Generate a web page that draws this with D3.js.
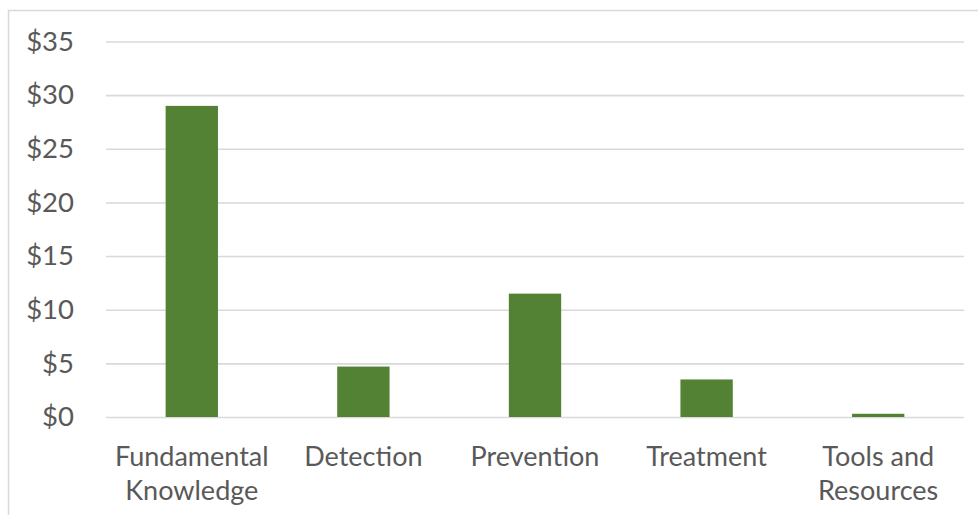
<!DOCTYPE html>
<html>
<head>
<meta charset="utf-8">
<script src="https://cdn.jsdelivr.net/npm/d3@7"></script>
<style>
  html, body { margin: 0; padding: 0; background: #fff; }
  svg { display: block; }
  text { font-family: Lato, "Open Sans", sans-serif; fill: #595959; }
</style>
</head>
<body>
<svg id="chart" width="978" height="515"></svg>
<script>
// Funding by research area (USD)
const categories = [["Fundamental", "Knowledge"], ["Detection"], ["Prevention"], ["Treatment"], ["Tools and", "Resources"]];
const amounts = [29.0, 4.7, 11.5, 3.5, 0.3];
const yTicks = [0, 5, 10, 15, 20, 25, 30, 35];

const W = 978, H = 515;
const plot = { left: 106, right: 964, top: 41.5, bottom: 417 };

const svg = d3.select("#chart");

// chart-area frame
svg.append("rect")
  .attr("x", 8.5).attr("y", 10.5)
  .attr("width", W + 10).attr("height", H + 10)
  .attr("fill", "none").attr("stroke", "#d9d9d9").attr("stroke-width", 1.5);

const keys = categories.map(c => c.join(" "));
const x = d3.scaleBand()
  .domain(keys)
  .range([plot.left, plot.right])
  .paddingInner(0.695)
  .paddingOuter(0.3475);

const y = d3.scaleLinear()
  .domain([0, 35])
  .range([plot.bottom, plot.top]);

// horizontal gridlines + dollar labels
const yAxis = d3.axisLeft(y)
  .tickValues(yTicks)
  .tickSize(-(plot.right - plot.left))
  .tickPadding(32)
  .tickFormat(d => "$" + d);

const gy = svg.append("g")
  .attr("transform", `translate(${plot.left},0)`)
  .call(yAxis);
gy.select(".domain").remove();
gy.selectAll(".tick line").attr("stroke", "#d9d9d9").attr("stroke-width", 1.6);
gy.selectAll(".tick text")
  .attr("font-size", 27.5)
  .style("font-family", "Lato, 'Open Sans', sans-serif")
  .attr("fill", "#595959");

// bars
svg.append("g").selectAll("rect")
  .data(amounts)
  .join("rect")
  .attr("x", (d, i) => x(keys[i]))
  .attr("y", d => y(d))
  .attr("width", x.bandwidth())
  .attr("height", d => y(0) - y(d))
  .attr("fill", "#548235");

// category labels (two lines where needed)
const gx = svg.append("g");
categories.forEach((lines, i) => {
  const cx = x(keys[i]) + x.bandwidth() / 2;
  const t = gx.append("text")
    .attr("text-anchor", "middle")
    .attr("font-size", 27)
    .attr("x", cx)
    .attr("y", 466);
  lines.forEach((ln, j) => {
    t.append("tspan").attr("x", cx).attr("dy", j === 0 ? 0 : 34).text(ln);
  });
});
</script>
</body>
</html>
